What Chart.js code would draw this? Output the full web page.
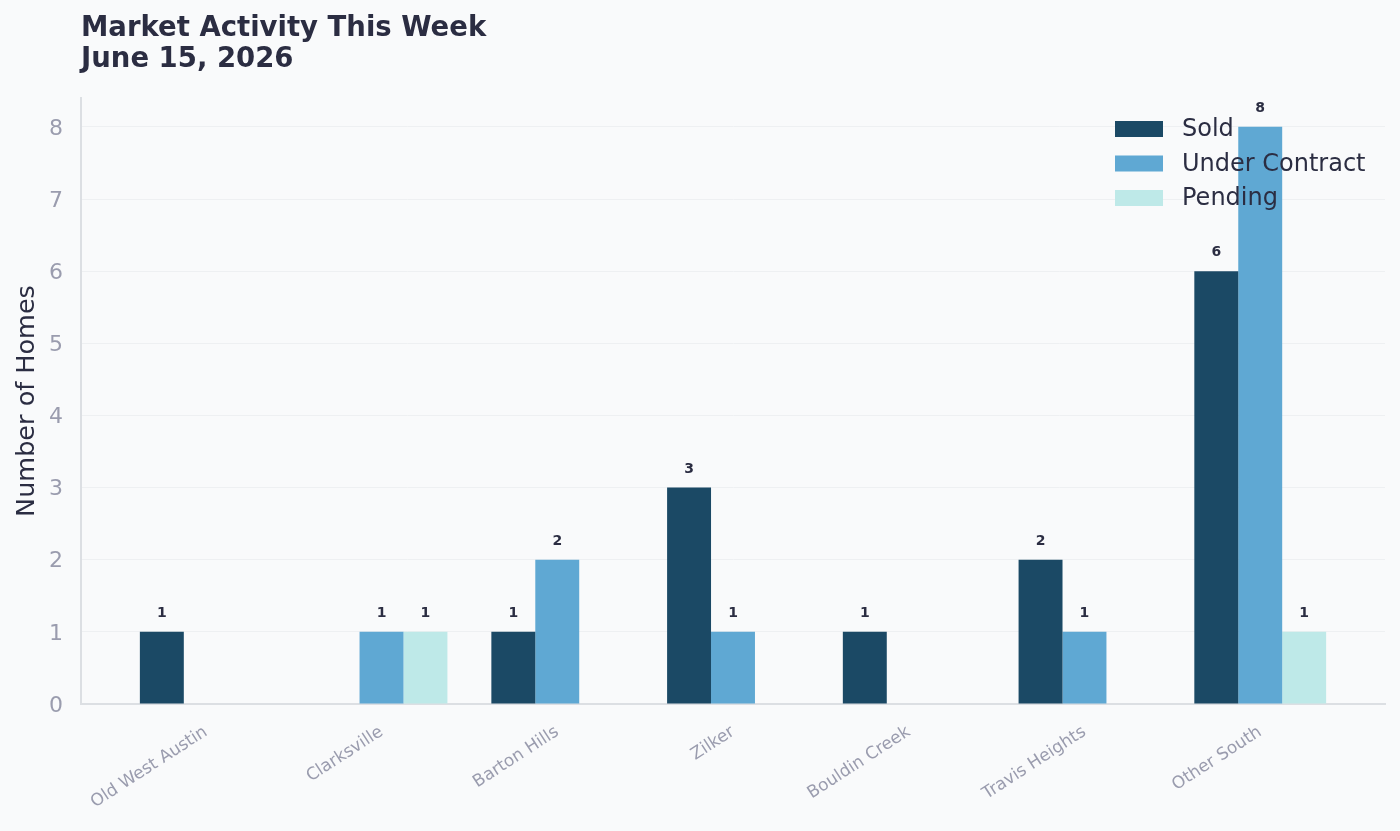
<!DOCTYPE html>
<html>
<head>
<meta charset="utf-8">
<script src="https://cdn.jsdelivr.net/npm/chart.js@4"></script>
<style>
  html, body { margin: 0; padding: 0; background: #f9fafb; }
  #wrap { width: 1400px; height: 831px; }
</style>
</head>
<body>
<div id="wrap"><canvas id="chart" width="1400" height="831"></canvas></div>
<script>
// dados do grafico
var bairros = ['Old West Austin', 'Clarksville', 'Barton Hills', 'Zilker', 'Bouldin Creek', 'Travis Heights', 'Other South'];
var vendidos = [1, 0, 1, 3, 1, 2, 6];
var sobContrato = [0, 1, 2, 1, 0, 1, 8];
var pendentes = [0, 1, 0, 0, 0, 0, 1];
var yTicks = [0, 1, 2, 3, 4, 5, 6, 7, 8];
var tituloLinhas = ['Market Activity This Week', 'June 15, 2026'];

var series = [
  { nome: 'Sold', valores: vendidos, cor: '#1b4965' },
  { nome: 'Under Contract', valores: sobContrato, cor: '#5fa8d3' },
  { nome: 'Pending', valores: pendentes, cor: '#bee9e8' }
];

function pontos(valores) {
  return valores.map(function (v, i) { return { x: i, y: v }; });
}

var fonte = '"DejaVu Sans", sans-serif';

var titulo = {
  id: 'titulo',
  beforeDraw: function (chart) {
    var ctx = chart.ctx;
    ctx.save();
    ctx.fillStyle = '#f9fafb';
    ctx.fillRect(0, 0, chart.width, chart.height);
    ctx.fillStyle = '#2b2d42';
    ctx.font = 'bold 27.5px ' + fonte;
    ctx.textAlign = 'left';
    ctx.textBaseline = 'alphabetic';
    ctx.fillText(tituloLinhas[0], 81, 36);
    ctx.fillText(tituloLinhas[1], 81, 67);
    ctx.restore();
  }
};

var rotulos = {
  id: 'rotulos',
  afterDatasetsDraw: function (chart) {
    var ctx = chart.ctx;
    ctx.save();
    ctx.fillStyle = '#2b2d42';
    ctx.font = 'bold 14px ' + fonte;
    ctx.textAlign = 'center';
    ctx.textBaseline = 'alphabetic';
    chart.data.datasets.forEach(function (ds, d) {
      var meta = chart.getDatasetMeta(d);
      meta.data.forEach(function (bar, i) {
        var v = ds.data[i].y;
        if (v > 0) ctx.fillText(String(v), bar.x, bar.y - 15);
      });
    });
    ctx.restore();
  }
};

var legenda = {
  id: 'legenda',
  afterDraw: function (chart) {
    var ctx = chart.ctx;
    ctx.save();
    ctx.font = '24px ' + fonte;
    ctx.textAlign = 'left';
    ctx.textBaseline = 'middle';
    series.forEach(function (s, i) {
      var y = 129 + i * 34.5;
      ctx.fillStyle = s.cor;
      ctx.fillRect(1115, y - 8, 48, 16);
      ctx.fillStyle = '#2b2d42';
      ctx.fillText(s.nome, 1182, y + 1);
    });
    ctx.restore();
  }
};

var ctx = document.getElementById('chart').getContext('2d');
var chart = new Chart(ctx, {
  type: 'bar',
  data: {
    datasets: series.map(function (s) {
      return {
        label: s.nome,
        data: pontos(s.valores),
        backgroundColor: s.cor,
        borderWidth: 0,
        categoryPercentage: 0.75,
        barPercentage: 1.0
      };
    })
  },
  options: {
    responsive: false,
    animation: false,
    layout: { padding: { top: 98, right: 15, left: 12, bottom: 0 } },
    plugins: {
      legend: { display: false },
      tooltip: { enabled: false }
    },
    scales: {
      x: {
        type: 'linear',
        min: -0.71,
        max: 6.71,
        offset: false,
        afterBuildTicks: function (scale) {
          scale.ticks = bairros.map(function (b, i) { return { value: i }; });
        },
        afterFit: function (scale) { scale.height = 127; },
        grid: { display: false, drawTicks: false },
        border: { display: true, color: '#dcdfe3', width: 2 },
        ticks: {
          autoSkip: false,
          maxRotation: 33,
          minRotation: 33,
          padding: 18,
          color: '#9a9cae',
          font: { family: fonte, size: 17 },
          callback: function (v) { return bairros[v]; }
        }
      },
      y: {
        min: 0,
        max: 8.4,
        afterBuildTicks: function (scale) {
          scale.ticks = yTicks.map(function (t) { return { value: t }; });
        },
        afterFit: function (scale) { scale.width = 69; },
        grid: { color: '#eef0f2', lineWidth: 1, drawTicks: false },
        border: { display: true, color: '#dcdfe3', width: 2 },
        ticks: {
          padding: 18,
          labelOffset: 2,
          color: '#9a9cae',
          font: { family: fonte, size: 22 }
        },
        title: {
          display: true,
          text: 'Number of Homes',
          color: '#2b2d42',
          font: { family: fonte, size: 25.5 },
          padding: { top: 0, bottom: 4 }
        }
      }
    }
  },
  plugins: [titulo, rotulos, legenda]
});
</script>
</body>
</html>
